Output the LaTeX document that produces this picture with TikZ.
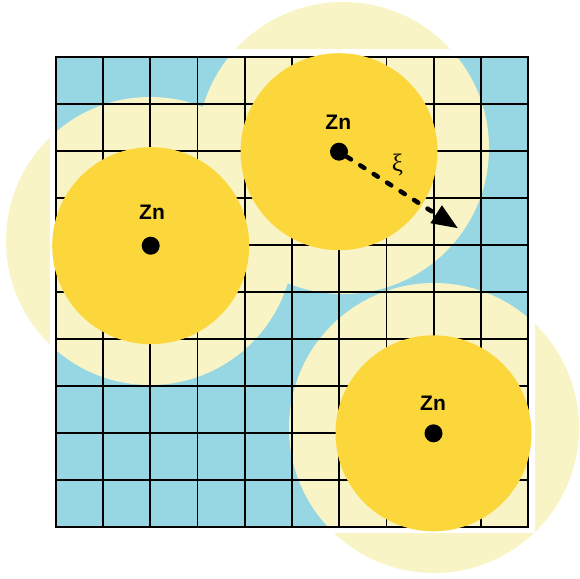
\documentclass[tikz,border=0pt]{standalone}
\usepackage{fontspec}
\setmainfont{Liberation Sans}
\newfontfamily\greekserif{Liberation Serif}
\usetikzlibrary{arrows.meta}
\definecolor{bluebg}{HTML}{97D7E3}
\definecolor{lightyel}{HTML}{F8F4C6}
\definecolor{darkyel}{HTML}{FCD73C}
\begin{document}
\begin{tikzpicture}[x=1pt,y=-1pt,
  halo/.style={fill=lightyel},
  core/.style={fill=darkyel},
  atom/.style={circle,fill=black,inner sep=0pt,minimum size=18pt},
  zlabel/.style={font=\fontsize{21}{21}\selectfont\bfseries,anchor=base,inner sep=0pt},
  gridline/.style={line width=1.8pt,black,line cap=rect},
  radiusarrow/.style={line width=4.5pt,line cap=round,dash pattern=on 5pt off 11pt,-{Triangle[length=26pt,width=20pt]}}]
\useasboundingbox (0,0) rectangle (580,578);
% outer halos
\fill[halo] (150,241) circle[radius=144pt];
\fill[halo] (343,148) circle[radius=146pt];
\fill[halo] (434,428) circle[radius=145pt];
% white frame and blue background
\fill[white] (50,49.3) rectangle (535,533.3);
\fill[bluebg] (55.7,57.3) rectangle (528.2,527.3);
\begin{scope}
  \clip (55.7,57.3) rectangle (528.2,527.3);
  \fill[halo] (150,241) circle[radius=144pt];
  \fill[halo] (343,148) circle[radius=146pt];
  \fill[halo] (434,428) circle[radius=145pt];
\end{scope}
% grid
\foreach \i in {0,...,10} {
  \draw[gridline] ({55.7+47.25*\i},57.3) -- ({55.7+47.25*\i},527.3);
  \draw[gridline] (55.7,{57.3+47*\i}) -- (528.2,{57.3+47*\i});
}
% cores
\fill[core] (150.7,245.7) circle[radius=98.5pt];
\fill[core] (339,151.7) circle[radius=98.5pt];
\fill[core] (433.5,433.3) circle[radius=98pt];
% atoms
\node[atom] (zleft) at (150.7,245.7) {};
\node[atom] (ztop) at (339,151.7) {};
\node[atom] (zbot) at (433.5,433.3) {};
\node[zlabel] (lleft) at (152,219) {Zn};
\node[zlabel] (ltop) at (338.3,129.3) {Zn};
\node[zlabel] (lbot) at (433,410.3) {Zn};
% radius arrow
\coordinate (tip) at (458,228.3);
\draw[radiusarrow] (ztop) -- (tip);
\node[font=\greekserif\fontsize{25}{25}\selectfont,inner sep=0pt] (xi) at (397.5,165) {ξ};
\end{tikzpicture}
\end{document}
